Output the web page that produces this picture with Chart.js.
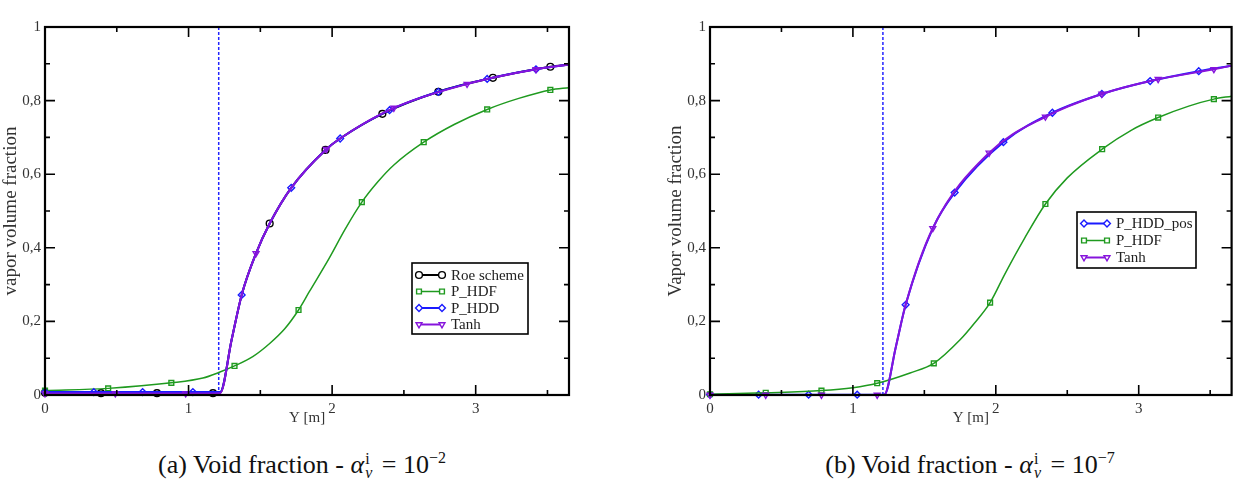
<!DOCTYPE html>
<html>
<head>
<meta charset="utf-8">
<script src="https://cdn.jsdelivr.net/npm/chart.js"></script>
<style>
  body { margin: 0; background: #fff; width: 1237px; height: 492px; overflow: hidden; position: relative; font-family: 'Liberation Serif', serif; }
  .panel { position: absolute; top: 0; }
  .cap { position: absolute; top: 443px; font-size: 26px; line-height: 30px; color: #111; white-space: nowrap; transform: translateX(-50%); }
  .ss { display: inline-flex; flex-direction: column; font-size: 16px; line-height: 14px; vertical-align: 9px; margin-left: 1px; margin-right: 3px; }
  .cap sup { font-size: 16px; }
</style>
</head>
<body>
<div class="panel" style="left:0"><canvas id="chartA" width="600" height="430"></canvas></div>
<div class="panel" style="left:665px"><canvas id="chartB" width="572" height="430"></canvas></div>
<div class="cap" style="left:302px">(a) Void fraction - <i>α</i><span class="ss"><span>i</span><i>v</i></span> = 10<sup>−2</sup></div>
<div class="cap" style="left:970px">(b) Void fraction - <i>α</i><span class="ss"><span>i</span><i>v</i></span> = 10<sup>−7</sup></div>
<script>
// axes
const xMax = 3.65;
const xTicks = [0, 1, 2, 3];
const xTickLabels = ['0', '1', '2', '3'];
const xMinor = [0.5, 1.5, 2.5, 3.5];
const yTicks = [0, 0.2, 0.4, 0.6, 0.8, 1];
const yTickLabels = ['0', '0,2', '0,4', '0,6', '0,8', '1'];
const yMinor = [0.1, 0.3, 0.5, 0.7, 0.9];
const interfaceY = 1.21;

// (a) alpha_v^i = 1e-2
const roeA_x = [0, 0.39, 0.78, 1.17, 1.22, 1.30, 1.37, 1.47, 1.565, 1.715, 1.954, 2.056, 2.35, 2.74, 3.12, 3.52, 3.65];
const roeA_y = [0.006, 0.005, 0.005, 0.005, 0.006, 0.15, 0.272, 0.385, 0.466, 0.563, 0.666, 0.697, 0.764, 0.824, 0.862, 0.892, 0.898];
const roeA_marks = [0, 0.39, 0.78, 1.17, 1.565, 1.954, 2.35, 2.74, 3.12, 3.52];

const hdfA_x = [0, 0.44, 0.88, 1.1, 1.21, 1.32, 1.45, 1.565, 1.67, 1.766, 1.84, 1.98, 2.09, 2.207, 2.32, 2.43, 2.638, 2.85, 3.08, 3.3, 3.52, 3.65];
const hdfA_y = [0.012, 0.018, 0.033, 0.046, 0.061, 0.079, 0.105, 0.14, 0.18, 0.231, 0.28, 0.372, 0.45, 0.524, 0.58, 0.625, 0.687, 0.735, 0.776, 0.806, 0.829, 0.835];
const hdfA_marks = [0, 0.44, 0.88, 1.32, 1.766, 2.207, 2.638, 3.08, 3.52];

const hddA_x = [0, 0.34, 0.68, 1.03, 1.22, 1.30, 1.37, 1.47, 1.565, 1.715, 1.954, 2.056, 2.40, 2.74, 3.08, 3.42, 3.65];
const hddA_y = [0.008, 0.008, 0.008, 0.008, 0.008, 0.15, 0.272, 0.385, 0.466, 0.563, 0.666, 0.697, 0.774, 0.824, 0.859, 0.885, 0.898];
const hddA_marks = [0, 0.34, 0.68, 1.03, 1.37, 1.715, 2.056, 2.40, 2.74, 3.08, 3.42];

const tanhA_x = [0, 0.49, 0.98, 1.22, 1.30, 1.37, 1.47, 1.565, 1.715, 1.96, 2.056, 2.43, 2.94, 3.42, 3.65];
const tanhA_y = [0.004, 0.004, 0.004, 0.005, 0.15, 0.272, 0.385, 0.466, 0.563, 0.668, 0.697, 0.78, 0.845, 0.885, 0.898];
const tanhA_marks = [0, 0.49, 0.98, 1.47, 1.96, 2.43, 2.94, 3.42];

// (b) alpha_v^i = 1e-7
const hddB_x = [0, 0.34, 0.69, 1.03, 1.22, 1.30, 1.369, 1.559, 1.712, 2.053, 2.396, 2.742, 3.08, 3.42, 3.65];
const hddB_y = [0.001, 0.001, 0.001, 0.001, 0.001, 0.13, 0.245, 0.453, 0.55, 0.687, 0.767, 0.818, 0.853, 0.880, 0.895];
const hddB_marks = [0, 0.34, 0.69, 1.03, 1.369, 1.712, 2.053, 2.396, 2.742, 3.08, 3.42];

const hdfB_x = [0, 0.39, 0.78, 1.0, 1.17, 1.4, 1.566, 1.75, 1.85, 1.96, 2.065, 2.2, 2.347, 2.5, 2.744, 2.95, 3.136, 3.35, 3.526, 3.65];
const hdfB_y = [0.002, 0.006, 0.012, 0.02, 0.032, 0.06, 0.086, 0.15, 0.195, 0.251, 0.33, 0.425, 0.519, 0.59, 0.668, 0.72, 0.754, 0.785, 0.804, 0.812];
const hdfB_marks = [0, 0.39, 0.78, 1.17, 1.566, 1.96, 2.347, 2.744, 3.136, 3.526];

const tanhB_x = [0, 0.39, 0.78, 1.17, 1.22, 1.30, 1.369, 1.559, 1.953, 2.347, 2.742, 3.136, 3.526, 3.65];
const tanhB_y = [0, 0, 0, 0, 0.001, 0.13, 0.245, 0.453, 0.658, 0.756, 0.818, 0.858, 0.885, 0.895];
const tanhB_marks = [0, 0.39, 0.78, 1.17, 1.559, 1.953, 2.347, 2.742, 3.136, 3.526];

const BLACK = '#000000', GREEN = '#1f9a1f', BLUE = '#1a1aff', VIOLET = '#8614dc';
const FONT = "'Liberation Serif', 'Times New Roman', serif";

function series(label, xs, ys, marks, color, style, width, order, rot) {
  return {
    label: label,
    data: xs.map((x, i) => ({ x: x, y: ys[i] })),
    borderColor: color,
    borderWidth: width,
    pointStyle: style,
    pointRotation: rot || 0,
    pointRadius: ctx => marks.includes(xs[ctx.dataIndex]) ? 3.4 : 0,
    pointBorderColor: color,
    pointBackgroundColor: 'rgba(0,0,0,0)',
    pointBorderWidth: 1.4,
    cubicInterpolationMode: 'monotone',
    fill: false,
    clip: false,
    order: order
  };
}

function interfaceLine() {
  return {
    label: '', inLegend: false,
    data: [{ x: interfaceY, y: 0 }, { x: interfaceY, y: 1 }],
    borderColor: '#2323ff', borderWidth: 1.5, borderDash: [3, 2],
    pointRadius: 0, fill: false, order: 9
  };
}

// frame + inward ticks on all four sides
const frameTicks = {
  id: 'frameTicks',
  afterDatasetsDraw(chart) {
    const ctx = chart.ctx, a = chart.chartArea;
    const xs = chart.scales.x, ys = chart.scales.y;
    ctx.save();
    ctx.strokeStyle = '#000';
    ctx.lineWidth = 1.6;
    const tick = (vals, len, horiz) => {
      vals.forEach(v => {
        ctx.beginPath();
        if (horiz) {
          const px = xs.getPixelForValue(v);
          ctx.moveTo(px, a.bottom); ctx.lineTo(px, a.bottom - len);
          ctx.moveTo(px, a.top); ctx.lineTo(px, a.top + len);
        } else {
          const py = ys.getPixelForValue(v);
          ctx.moveTo(a.left, py); ctx.lineTo(a.left + len, py);
          ctx.moveTo(a.right, py); ctx.lineTo(a.right - len, py);
        }
        ctx.stroke();
      });
    };
    tick(xTicks, 10, true);
    tick(xMinor, 5, true);
    tick(yTicks, 10, false);
    tick(yMinor, 5, false);
    ctx.lineWidth = 2.2;
    ctx.strokeRect(a.left, a.top, a.right - a.left, a.bottom - a.top);
    ctx.restore();
  }
};

// grace-style boxed legend
const boxLegend = {
  id: 'boxLegend',
  afterDraw(chart, args, o) {
    const ctx = chart.ctx, a = chart.chartArea;
    const items = chart.data.datasets.filter(d => d.inLegend !== false);
    const bx = a.left + o.x, by = a.top + o.y;
    ctx.save();
    ctx.fillStyle = '#fff';
    ctx.fillRect(bx, by, o.w, o.h);
    ctx.strokeStyle = '#000';
    ctx.lineWidth = 1.6;
    ctx.strokeRect(bx, by, o.w, o.h);
    ctx.font = '15px ' + FONT;
    ctx.textBaseline = 'middle';
    items.forEach((d, i) => {
      const y = by + o.first + i * o.gap;
      ctx.strokeStyle = d.borderColor;
      ctx.lineWidth = d.borderWidth;
      ctx.beginPath();
      ctx.moveTo(bx + 7, y); ctx.lineTo(bx + 30, y);
      ctx.stroke();
      ctx.fillStyle = '#fff';
      ctx.lineWidth = 1.4;
      [bx + 7, bx + 30].forEach(px => {
        Chart.helpers.drawPoint(ctx, {
          pointStyle: d.pointStyle, rotation: d.pointRotation, radius: 3.4, borderWidth: 1.4
        }, px, y);
      });
      ctx.fillStyle = '#222';
      ctx.fillText(d.label, bx + 39, y + 1);
    });
    ctx.restore();
  }
};

function makeChart(id, datasets, yTitle, legendBox, padRight) {
  return new Chart(document.getElementById(id), {
    type: 'line',
    data: { datasets: datasets },
    plugins: [frameTicks, boxLegend],
    options: {
      responsive: false,
      animation: false,
      devicePixelRatio: 1,
      layout: { padding: { top: 27, right: padRight, bottom: 3, left: 0 } },
      plugins: { legend: { display: false }, tooltip: { enabled: false }, boxLegend: legendBox },
      scales: {
        x: {
          type: 'linear', min: 0, max: xMax,
          afterBuildTicks: s => { s.ticks = xTicks.map(v => ({ value: v })); },
          afterFit: s => { s.height = 32; },
          grid: { display: false, drawTicks: false },
          border: { display: false },
          ticks: { padding: 5, color: '#333', font: { family: FONT, size: 15 }, callback: (v, i) => xTickLabels[i] },
          title: { display: true, text: 'Y [m]', color: '#333', padding: 0, font: { family: FONT, size: 15 } }
        },
        y: {
          type: 'linear', min: 0, max: 1,
          afterBuildTicks: s => { s.ticks = yTicks.map(v => ({ value: v })); },
          afterFit: s => { s.width = 45; },
          grid: { display: false, drawTicks: false },
          border: { display: false },
          ticks: { padding: 4, color: '#333', font: { family: FONT, size: 15 }, callback: (v, i) => yTickLabels[i] },
          title: { display: true, text: yTitle, color: '#333', padding: 0, font: { family: FONT, size: 19 } }
        }
      }
    }
  });
}

makeChart('chartA', [
  series('Roe scheme', roeA_x, roeA_y, roeA_marks, BLACK, 'circle', 2, 3),
  series('P_HDF', hdfA_x, hdfA_y, hdfA_marks, GREEN, 'rect', 1.5, 2),
  series('P_HDD', hddA_x, hddA_y, hddA_marks, BLUE, 'rectRot', 2, 1),
  series('Tanh', tanhA_x, tanhA_y, tanhA_marks, VIOLET, 'triangle', 2, 0, 180),
  interfaceLine()
], 'vapor volume fraction', { x: 367, y: 236, w: 116, h: 71, first: 12, gap: 16.5 }, 31);

makeChart('chartB', [
  series('P_HDD_pos', hddB_x, hddB_y, hddB_marks, BLUE, 'rectRot', 2, 2),
  series('P_HDF', hdfB_x, hdfB_y, hdfB_marks, GREEN, 'rect', 1.5, 1),
  series('Tanh', tanhB_x, tanhB_y, tanhB_marks, VIOLET, 'triangle', 2, 0, 180),
  interfaceLine()
], 'Vapor volume fraction', { x: 367, y: 185, w: 119, h: 56, first: 11.5, gap: 17 }, 4);
</script>
</body>
</html>
